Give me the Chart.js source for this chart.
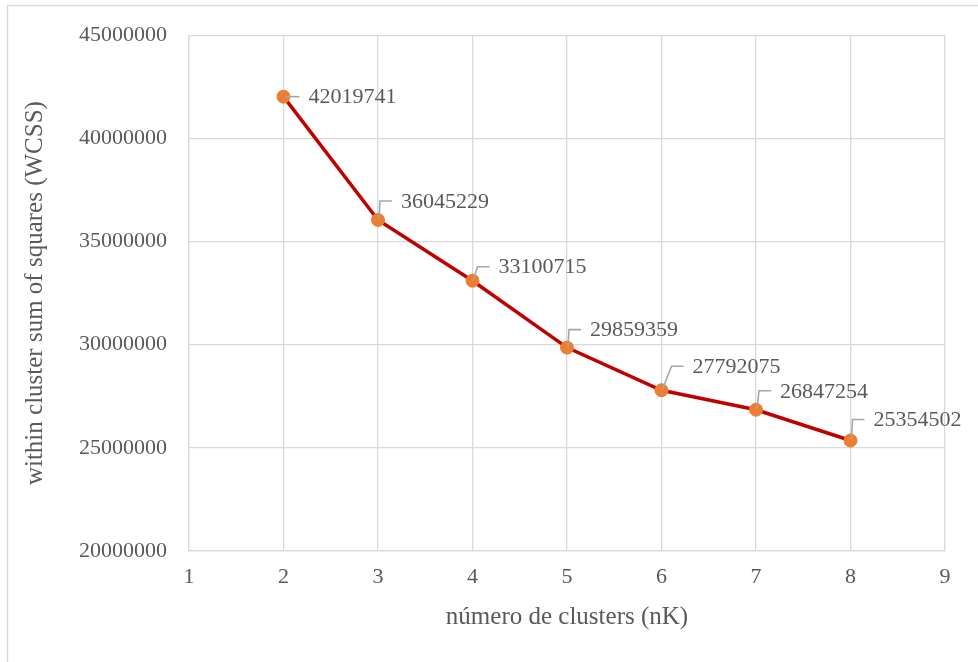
<!DOCTYPE html>
<html>
<head>
<meta charset="utf-8">
<script src="https://cdn.jsdelivr.net/npm/chart.js@4.4.1/dist/chart.umd.min.js"></script>
<style>
  html, body { margin: 0; padding: 0; background: #ffffff; }
  #wrap { width: 978px; height: 662px; position: relative; }
</style>
</head>
<body>
<div id="wrap"><canvas id="elbow" width="978" height="662"></canvas></div>
<script>
// Elbow curve: WCSS per number of clusters
const clusterCounts = [2, 3, 4, 5, 6, 7, 8];
const wcssValues = [42019741, 36045229, 33100715, 29859359, 27792075, 26847254, 25354502];
const xTickRange = [1, 9];
const yTickRange = [20000000, 45000000];
const yTickStep = 5000000;
const xAxisTitle = 'número de clusters (nK)';
const yAxisTitle = 'within cluster sum of squares (WCSS)';

// Label placement relative to each marker (pixels: right, up)
const labelNudge = [[25, 0], [23, -19], [26, -14], [23, -18], [31, -24], [24, -19], [23, -21]];

const FONT = '"Liberation Serif", "Times New Roman", serif';
const TEXT = '#595959';
const GRID = '#d9d9d9';

// Thin frame along the top and left edges of the canvas
const framePlugin = {
  id: 'frame',
  beforeDraw(chart) {
    const ctx = chart.ctx;
    ctx.save();
    ctx.strokeStyle = GRID;
    ctx.lineWidth = 1.5;
    ctx.beginPath();
    ctx.moveTo(7.5, chart.height);
    ctx.lineTo(7.5, 5.5);
    ctx.lineTo(chart.width, 5.5);
    ctx.stroke();
    ctx.restore();
  }
};

// Value labels with leader lines
const valueLabelPlugin = {
  id: 'valueLabels',
  afterDatasetsDraw(chart) {
    const ctx = chart.ctx;
    const meta = chart.getDatasetMeta(0);
    ctx.save();
    ctx.font = '22px ' + FONT;
    ctx.textBaseline = 'middle';
    ctx.textAlign = 'left';
    meta.data.forEach((pt, i) => {
      const [dx, dy] = labelNudge[i];
      const lx = pt.x + dx;
      const ly = pt.y + dy;
      const vx = lx - 21;
      ctx.strokeStyle = '#a6a6a6';
      ctx.lineWidth = 1.6;
      ctx.beginPath();
      ctx.moveTo(pt.x + 1, pt.y - (dy < 0 ? 1 : 0));
      ctx.lineTo(vx, ly);
      ctx.lineTo(lx - 9, ly);
      ctx.stroke();
      ctx.fillStyle = TEXT;
      ctx.fillText(String(wcssValues[i]), lx, ly + 1);
    });
    ctx.restore();
  }
};

new Chart(document.getElementById('elbow'), {
  type: 'line',
  data: {
    datasets: [{
      data: clusterCounts.map((k, i) => ({ x: k, y: wcssValues[i] })),
      borderColor: '#C00000',
      borderWidth: 3.5,
      tension: 0,
      pointRadius: 6.5,
      pointBorderWidth: 1,
      pointBackgroundColor: '#ED7D31',
      pointBorderColor: '#ED7D31',
      clip: false
    }]
  },
  options: {
    responsive: false,
    animation: false,
    layout: { padding: { left: 0, top: 34, right: 33, bottom: 0 } },
    plugins: { legend: { display: false }, tooltip: { enabled: false } },
    scales: {
      x: {
        type: 'linear',
        min: xTickRange[0],
        max: xTickRange[1],
        ticks: { stepSize: 1, color: TEXT, font: { family: FONT, size: 22 }, padding: 13, maxRotation: 0 },
        grid: { color: GRID, lineWidth: 1.3, drawTicks: false },
        border: { color: GRID, width: 1.3 },
        title: { display: true, text: xAxisTitle, color: TEXT, font: { family: FONT, size: 25 }, padding: { top: 0, bottom: 30 } },
        afterFit(scale) { scale.height = 111; }
      },
      y: {
        min: yTickRange[0],
        max: yTickRange[1],
        ticks: { stepSize: yTickStep, color: TEXT, font: { family: FONT, size: 22 }, padding: 22, callback: v => String(v) },
        grid: { color: GRID, lineWidth: 1.3, drawTicks: false },
        border: { color: GRID, width: 1.3 },
        title: { display: true, text: yAxisTitle, color: TEXT, font: { family: FONT, size: 25 }, padding: { top: 20, bottom: 0 } },
        afterFit(scale) { scale.width = 189; }
      }
    }
  },
  plugins: [framePlugin, valueLabelPlugin]
});
</script>
</body>
</html>
